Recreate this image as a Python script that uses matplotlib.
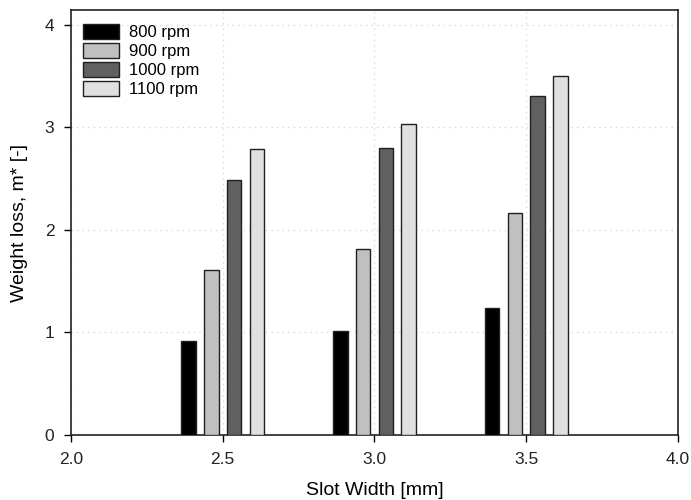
import numpy as np
import matplotlib.pyplot as plt

plt.rcParams['font.family'] = ['Liberation Sans', 'DejaVu Sans']

# slot widths and weight loss per rotor speed
slot_width = [2.5, 3.0, 3.5]
labels = ['800 rpm', '900 rpm', '1000 rpm', '1100 rpm']
loss_800 = [0.92, 1.01, 1.24]
loss_900 = [1.61, 1.81, 2.17]
loss_1000 = [2.49, 2.80, 3.31]
loss_1100 = [2.79, 3.03, 3.50]
colors = ['#000000', '#c0c0c0', '#606060', '#e0e0e0']

series = [loss_800, loss_900, loss_1000, loss_1100]
offsets = [-0.1125, -0.0375, 0.0375, 0.1125]

fig = plt.figure(figsize=(6.91, 5.0), dpi=100)
ax = fig.add_axes([0.1027, 0.13, 0.8785, 0.85])

x = np.array(slot_width)
for vals, off, col, lab in zip(series, offsets, colors, labels):
  ax.bar(x + off, vals, width=0.048, color=col, edgecolor='#202020',
         linewidth=1.0, label=lab, zorder=3)

ax.set_xlim(2.0, 4.0)
ax.set_ylim(0, 4.146)
ax.set_xticks([2.0, 2.5, 3.0, 3.5, 4.0])
ax.set_xticklabels(['2.0', '2.5', '3.0', '3.5', '4.0'])
ax.set_yticks([0, 1, 2, 3, 4])
ax.tick_params(direction='out', length=5, width=1, labelsize=12.5, pad=7,
               labelcolor='#222222')
ax.grid(True, color='#d8d8d8', linestyle=(0, (1, 3)), linewidth=1, zorder=0)

for s in ax.spines.values():
  s.set_linewidth(1.2)
  s.set_color('#222222')

ax.set_xlabel('Slot Width [mm]', fontsize=14, labelpad=11)
ax.set_ylabel('Weight loss, m* [-]', fontsize=14, labelpad=12)

ax.legend(loc='upper left', frameon=False, fontsize=12, handlelength=2.2,
          handleheight=0.95, labelspacing=0.19, borderaxespad=0.3,
          handletextpad=0.6, bbox_to_anchor=(0.0, 0.994))

fig.savefig('out.png', dpi=100)
